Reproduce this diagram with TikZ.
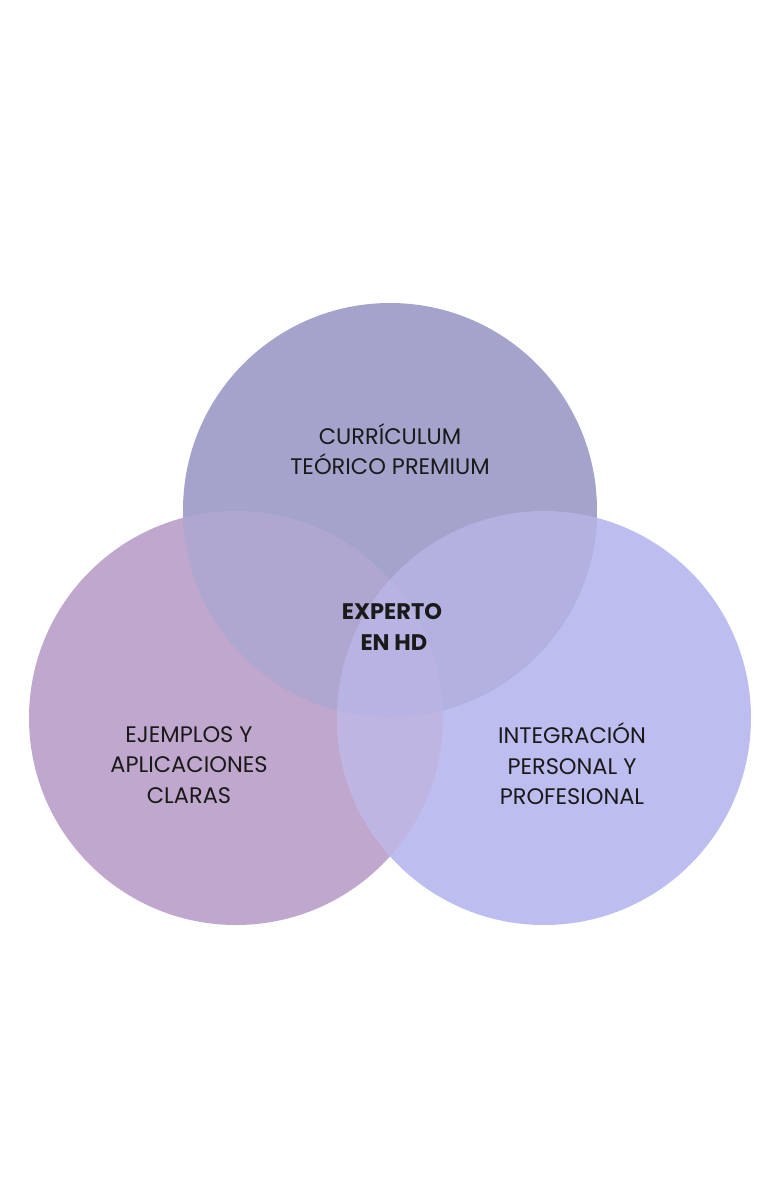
\documentclass[tikz,border=0pt]{standalone}
\usepackage{fontspec}
\setmainfont{Poppins}
\definecolor{cT}{HTML}{A4A3CC}
\definecolor{cL}{HTML}{C0A7CD}
\definecolor{cR}{HTML}{BEBDF0}
\definecolor{cTL}{HTML}{B0A7D1}
\definecolor{cTR}{HTML}{B2B1DF}
\definecolor{cLR}{HTML}{BEB5E3}
\definecolor{cTLR}{HTML}{B8B3E2}
\definecolor{txt}{HTML}{1A1A1A}
\tikzset{
  lbl/.style={align=center, text=txt, inner sep=0pt, font=\fontsize{22.5}{30.5}\selectfont},
  lblb/.style={lbl, font=\fontsize{22.5}{30.5}\selectfont\bfseries}
}
\begin{document}
\begin{tikzpicture}[x=1pt,y=-1pt]
\useasboundingbox (0,0) rectangle (780,1185);
\def\rr{207}
% single circles
\fill[cL] (236,718) circle (\rr);
\fill[cR] (544,718) circle (\rr);
\fill[cT] (390,510) circle (\rr);
% pairwise overlaps
\begin{scope}
  \clip (390,510) circle (\rr);
  \fill[cTL] (236,718) circle (\rr);
\end{scope}
\begin{scope}
  \clip (390,510) circle (\rr);
  \fill[cTR] (544,718) circle (\rr);
\end{scope}
\begin{scope}
  \clip (236,718) circle (\rr);
  \fill[cLR] (544,718) circle (\rr);
\end{scope}
% triple overlap
\begin{scope}
  \clip (390,510) circle (\rr);
  \clip (236,718) circle (\rr);
  \fill[cTLR] (544,718) circle (\rr);
\end{scope}
% labels
\node[lbl] (top) at (390,449) {CURRÍCULUM\\TEÓRICO PREMIUM};
\node[lblb] (mid) at (392,627) {EXPERTO\\\,EN HD};
\node[lbl] (left) at (189,765) {EJEMPLOS Y\\APLICACIONES\\CLARAS};
\node[lbl] (right) at (572,764) {INTEGRACIÓN\\PERSONAL Y\\PROFESIONAL};
\end{tikzpicture}
\end{document}
